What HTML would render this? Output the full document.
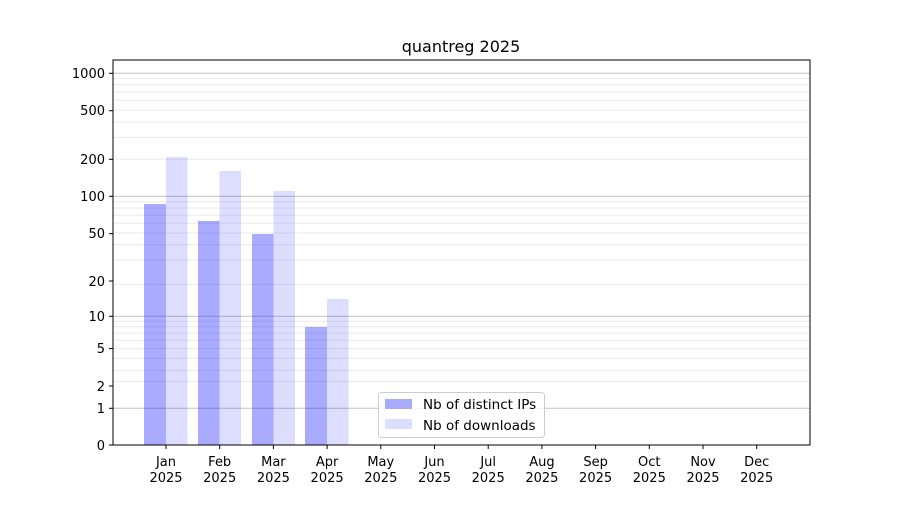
<!DOCTYPE html>
<html><head><meta charset="utf-8"><style>
body{margin:0;background:#fff;}
svg text{font-family:"DejaVu Sans","Liberation Sans",sans-serif;font-size:13px;fill:#000;}
</style></head><body>
<svg width="900" height="500" xmlns="http://www.w3.org/2000/svg">
<rect width="900" height="500" fill="#fff"/>
<g stroke="#ebebeb" stroke-width="1">
<line x1="113" x2="810" y1="370.4" y2="370.4"/><line x1="113" x2="810" y1="358.4" y2="358.4"/><line x1="113" x2="810" y1="348.6" y2="348.6"/><line x1="113" x2="810" y1="340.3" y2="340.3"/><line x1="113" x2="810" y1="333.1" y2="333.1"/><line x1="113" x2="810" y1="326.8" y2="326.8"/><line x1="113" x2="810" y1="321.2" y2="321.2"/>
<line x1="113" x2="810" y1="260" y2="260"/><line x1="113" x2="810" y1="244.7" y2="244.7"/><line x1="113" x2="810" y1="233" y2="233"/><line x1="113" x2="810" y1="223.3" y2="223.3"/><line x1="113" x2="810" y1="215.1" y2="215.1"/><line x1="113" x2="810" y1="208" y2="208"/><line x1="113" x2="810" y1="201.7" y2="201.7"/>
<line x1="113" x2="810" y1="381.5" y2="381.5"/><line x1="113" x2="810" y1="284.4" y2="284.4"/><line x1="113" x2="810" y1="159.3" y2="159.3"/>
<line x1="113" x2="810" y1="137.5" y2="137.5"/><line x1="113" x2="810" y1="122.1" y2="122.1"/><line x1="113" x2="810" y1="110.1" y2="110.1"/><line x1="113" x2="810" y1="100.3" y2="100.3"/><line x1="113" x2="810" y1="92" y2="92"/><line x1="113" x2="810" y1="84.8" y2="84.8"/><line x1="113" x2="810" y1="78.5" y2="78.5"/>
</g>
<g stroke="#c4c4c4" stroke-width="1">
<line x1="113" x2="810" y1="408.3" y2="408.3"/><line x1="113" x2="810" y1="316.3" y2="316.3"/><line x1="113" x2="810" y1="196.3" y2="196.3"/><line x1="113" x2="810" y1="73.3" y2="73.3"/>
</g>
<g fill="#0000ff" fill-opacity="0.333">
<rect x="144" y="204" width="22" height="241"/>
<rect x="198" y="221" width="21.5" height="224"/>
<rect x="252" y="234" width="21.5" height="211"/>
<rect x="305" y="327" width="22" height="118"/>
</g>
<g fill="#0000ff" fill-opacity="0.133">
<rect x="166" y="157" width="21.5" height="288"/>
<rect x="219.5" y="171" width="21.5" height="274"/>
<rect x="273.5" y="191" width="21.5" height="254"/>
<rect x="327" y="299" width="21.5" height="146"/>
</g>
<rect x="113" y="60" width="697" height="385" fill="none" stroke="#000" stroke-width="1"/>
<g stroke="#000">
<line x1="109" x2="113" y1="445" y2="445"/><line x1="109" x2="113" y1="408.3" y2="408.3"/><line x1="109" x2="113" y1="386" y2="386"/><line x1="109" x2="113" y1="348.6" y2="348.6"/><line x1="109" x2="113" y1="316.3" y2="316.3"/><line x1="109" x2="113" y1="281" y2="281"/><line x1="109" x2="113" y1="233.7" y2="233.7"/><line x1="109" x2="113" y1="196.3" y2="196.3"/><line x1="109" x2="113" y1="159.3" y2="159.3"/><line x1="109" x2="113" y1="110.7" y2="110.7"/><line x1="109" x2="113" y1="73.3" y2="73.3"/>
</g>
<g text-anchor="end">
<text x="105" y="450">0</text><text x="105" y="413">1</text><text x="105" y="391">2</text><text x="105" y="353">5</text><text x="105" y="321">10</text><text x="105" y="286">20</text><text x="105" y="238">50</text><text x="105" y="201">100</text><text x="105" y="164">200</text><text x="105" y="115">500</text><text x="105" y="78">1000</text>
</g>
<text x="461" y="52" text-anchor="middle" style="font-size:16px">quantreg 2025</text>
<rect x="378.5" y="392.5" width="166" height="45" rx="3" fill="#fff" fill-opacity="0.8" stroke="#ccc"/>
<rect x="385" y="399" width="27" height="10" fill="#aaaaff"/>
<rect x="385" y="419" width="27" height="10" fill="#ddddff"/>
<text x="423" y="409" style="font-size:13.5px">Nb of distinct IPs</text>
<text x="423" y="430" style="font-size:13.5px">Nb of downloads</text>
<g text-anchor="middle">
<line x1="166" x2="166" y1="445" y2="449" stroke="#000"/><text x="166" y="466">Jan</text><text x="166" y="482">2025</text>
<line x1="219.7" x2="219.7" y1="445" y2="449" stroke="#000"/><text x="219.7" y="466">Feb</text><text x="219.7" y="482">2025</text>
<line x1="273.4" x2="273.4" y1="445" y2="449" stroke="#000"/><text x="273.4" y="466">Mar</text><text x="273.4" y="482">2025</text>
<line x1="327.1" x2="327.1" y1="445" y2="449" stroke="#000"/><text x="327.1" y="466">Apr</text><text x="327.1" y="482">2025</text>
<line x1="380.8" x2="380.8" y1="445" y2="449" stroke="#000"/><text x="380.8" y="466">May</text><text x="380.8" y="482">2025</text>
<line x1="434.5" x2="434.5" y1="445" y2="449" stroke="#000"/><text x="434.5" y="466">Jun</text><text x="434.5" y="482">2025</text>
<line x1="488.2" x2="488.2" y1="445" y2="449" stroke="#000"/><text x="488.2" y="466">Jul</text><text x="488.2" y="482">2025</text>
<line x1="541.9" x2="541.9" y1="445" y2="449" stroke="#000"/><text x="541.9" y="466">Aug</text><text x="541.9" y="482">2025</text>
<line x1="595.6" x2="595.6" y1="445" y2="449" stroke="#000"/><text x="595.6" y="466">Sep</text><text x="595.6" y="482">2025</text>
<line x1="649.3" x2="649.3" y1="445" y2="449" stroke="#000"/><text x="649.3" y="466">Oct</text><text x="649.3" y="482">2025</text>
<line x1="703" x2="703" y1="445" y2="449" stroke="#000"/><text x="703" y="466">Nov</text><text x="703" y="482">2025</text>
<line x1="756.7" x2="756.7" y1="445" y2="449" stroke="#000"/><text x="756.7" y="466">Dec</text><text x="756.7" y="482">2025</text>
</g>
</svg>
</body></html>
